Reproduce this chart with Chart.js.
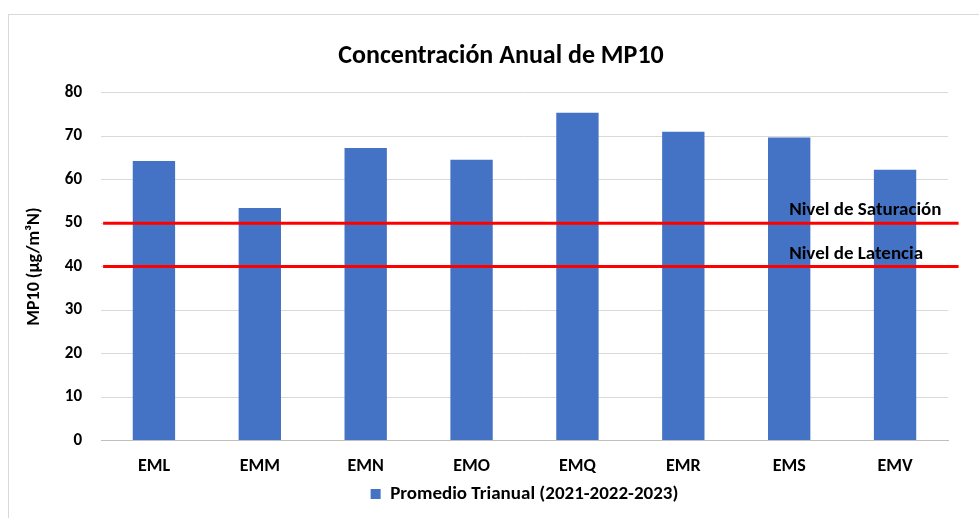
<!DOCTYPE html>
<html>
<head>
<meta charset="utf-8">
<script src="https://cdn.jsdelivr.net/npm/chart.js@4.4.1/dist/chart.umd.min.js"></script>
<style>
    html, body { margin: 0; padding: 0; background: #fff; overflow: hidden; }
    #frame { position: absolute; left: 8px; top: 14px; width: 1000px; height: 600px; border: 1px solid #d9d9d9; }
    #wrap { position: absolute; left: 0; top: 0; width: 979px; height: 518px; }
</style>
</head>
<body>
<div id="frame"></div>
<div id="wrap"><canvas id="mp10Chart" width="979" height="518"></canvas></div>
<script>
// Estaciones y promedio trianual de MP10
const stations = ['EML', 'EMM', 'EMN', 'EMO', 'EMQ', 'EMR', 'EMS', 'EMV'];
const promedioTrianual = [64.3, 53.5, 67.3, 64.6, 75.4, 71.0, 69.7, 62.3];

// Niveles de referencia
const nivelSaturacion = 50;
const nivelLatencia = 40;
const limitSpan = [0.02, 8.1];   // extent of the red lines, in category units
const limitLabelAt = 6.5;        // where the line labels start

const yMin = 0, yMax = 80, yStep = 10;

const FONT = 'Calibri, Carlito, Lato, sans-serif';
Chart.defaults.font.family = FONT;
Chart.defaults.color = '#000';

function limitLine(label, value) {
    return {
        type: 'line',
        label: label,
        limitLabel: label,
        data: limitSpan.map(x => ({ x: x, y: value })),
        xAxisID: 'x2',
        borderColor: '#FF0000',
        borderWidth: 3,
        pointRadius: 0,
        fill: false,
        clip: false,
        order: 1
    };
}

// draws "Nivel de ..." above each red line
const limitLabels = {
    id: 'limitLabels',
    afterDatasetsDraw(chart) {
        const { ctx, scales } = chart;
        chart.data.datasets.forEach(ds => {
            if (!ds.limitLabel) return;
            const x = scales.x2.getPixelForValue(limitLabelAt);
            const y = scales.y.getPixelForValue(ds.data[0].y) - 12.5;
            ctx.save();
            ctx.font = `bold 19px ${FONT}`;
            ctx.fillStyle = '#000';
            ctx.textAlign = 'left';
            ctx.textBaseline = 'middle';
            ctx.fillText(ds.limitLabel, x, y);
            ctx.restore();
        });
    }
};

const ctx = document.getElementById('mp10Chart').getContext('2d');
const mp10Chart = new Chart(ctx, {
    type: 'bar',
    data: {
        labels: stations,
        datasets: [
            {
                type: 'bar',
                label: 'Promedio Trianual (2021-2022-2023)',
                data: promedioTrianual,
                backgroundColor: '#4472C4',
                borderWidth: 0,
                grouped: false,
                categoryPercentage: 1,
                barPercentage: 0.4,
                order: 2
            },
            limitLine('Nivel de Saturación', nivelSaturacion),
            limitLine('Nivel de Latencia', nivelLatencia)
        ]
    },
    options: {
        responsive: false,
        devicePixelRatio: 1,
        animation: false,
        layout: { padding: { left: 24, right: 1, top: 0, bottom: 4.5 } },
        plugins: {
            title: {
                display: true,
                text: 'Concentración Anual de MP10',
                font: { size: 26, weight: 'bold' },
                color: '#000',
                padding: { top: 40.4, bottom: 21.1 }
            },
            legend: {
                display: true,
                position: 'bottom',
                fullSize: false,
                labels: {
                    boxWidth: 10,
                    boxHeight: 10,
                    padding: 9,
                    font: { size: 19, weight: 'bold' },
                    color: '#000',
                    filter: item => item.datasetIndex === 0
                }
            },
            tooltip: { enabled: false }
        },
        scales: {
            x: {
                type: 'category',
                grid: { display: false, drawTicks: false },
                border: { display: true, color: '#BFBFBF', width: 1 },
                ticks: { padding: 15, font: { size: 18, weight: 'bold' }, color: '#000' },
                afterFit: scale => { scale.height = 35; }
            },
            x2: {
                type: 'linear',
                display: false,
                offset: false,
                min: 0,
                max: stations.length
            },
            y: {
                min: yMin,
                max: yMax,
                grid: { color: '#D9D9D9', drawTicks: false },
                border: { display: false },
                ticks: { stepSize: yStep, padding: 19, font: { size: 17, weight: 'bold' }, color: '#000' },
                title: {
                    display: true,
                    text: 'MP10 (µg/m³N)',
                    font: { size: 18, weight: 'bold' },
                    color: '#000',
                    padding: { top: 0, bottom: 0 }
                },
                afterFit: scale => { scale.width = 77; }
            },
            yr: {
                position: 'right',
                display: true,
                grid: { display: false },
                border: { display: false },
                ticks: { display: false },
                afterFit: scale => { scale.width = 30; }
            }
        }
    },
    plugins: [limitLabels]
});
</script>
</body>
</html>
